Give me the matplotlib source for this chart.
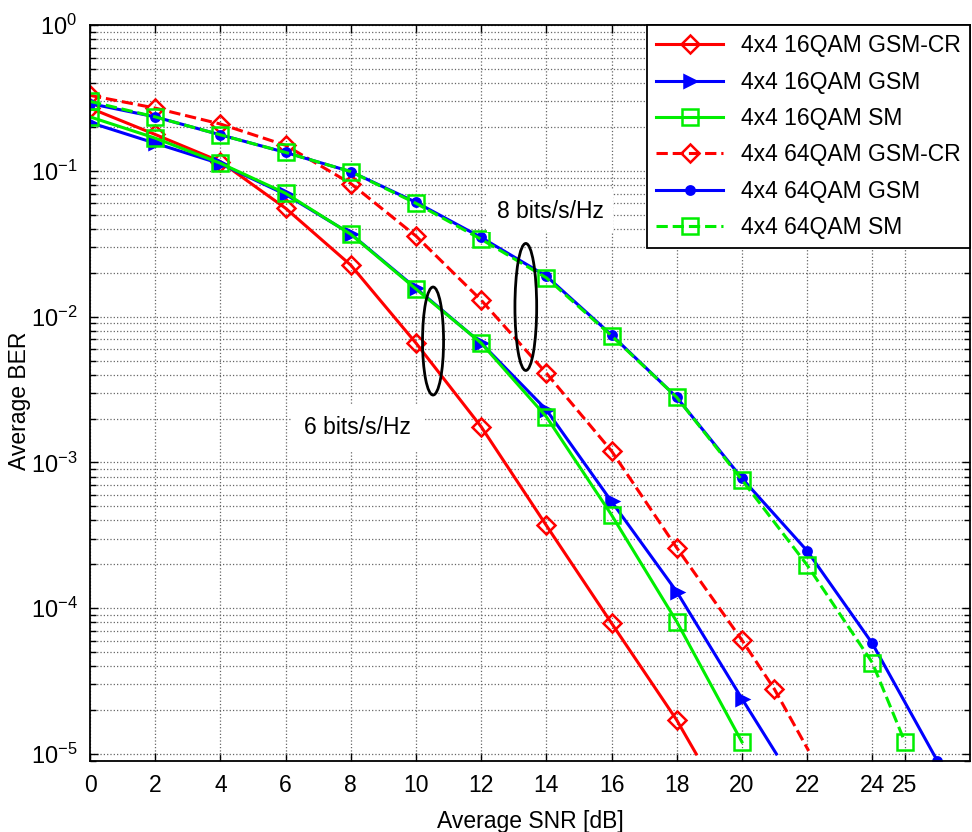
import numpy as np
import matplotlib
matplotlib.use('Agg')
import matplotlib.pyplot as plt
from matplotlib.patches import Ellipse
from matplotlib.ticker import FixedLocator, LogLocator, NullFormatter

plt.rcParams['font.family'] = ['Liberation Sans', 'DejaVu Sans']
plt.rcParams['mathtext.fontset'] = 'custom'
plt.rcParams['mathtext.rm'] = 'Liberation Sans'
plt.rcParams['mathtext.it'] = 'Liberation Sans:italic'
plt.rcParams['mathtext.bf'] = 'Liberation Sans:bold'

# === Data (SNR in dB, BER) ===
# last entry of some series is where the curve leaves the plot (no marker there)
snr_16_gsmcr = [0, 2, 4, 6, 8, 10, 12, 14, 16, 18, 18.6]
ber_16_gsmcr = [0.27, 0.178, 0.116, 0.0555, 0.0226, 0.0066, 0.00176, 3.7e-4, 7.9e-5, 1.71e-5, 1.0e-5]

snr_16_gsm = [0, 2, 4, 6, 8, 10, 12, 14, 16, 18, 20, 21.06]
ber_16_gsm = [0.215, 0.155, 0.112, 0.069, 0.037, 0.0157, 0.0066, 0.0023, 5.4e-4, 1.3e-4, 2.4e-5, 1.0e-5]

snr_16_sm = [0, 2, 4, 6, 8, 10, 12, 14, 16, 18, 20]
ber_16_sm = [0.235, 0.168, 0.113, 0.0703, 0.0368, 0.0155, 0.0066, 0.00206, 4.37e-4, 8.1e-5, 1.21e-5]

snr_64_gsmcr = [0, 2, 4, 6, 8, 10, 12, 14, 16, 18, 20, 21, 22.05]
ber_64_gsmcr = [0.33, 0.27, 0.21, 0.15, 0.082, 0.0358, 0.013, 0.0041, 0.0012, 2.6e-4, 6.05e-5, 2.78e-5, 1.05e-5]

snr_64_gsm = [0, 2, 4, 6, 8, 10, 12, 14, 16, 18, 20, 22, 24, 26]
ber_64_gsm = [0.29, 0.235, 0.177, 0.134, 0.099, 0.061, 0.035, 0.019, 0.0075, 0.0028, 7.8e-4, 2.48e-4, 5.74e-5, 8.95e-6]

snr_64_sm = [0, 2, 4, 6, 8, 10, 12, 14, 16, 18, 20, 22, 24, 25]
ber_64_sm = [0.30, 0.235, 0.177, 0.134, 0.099, 0.060, 0.034, 0.0185, 0.0074, 0.0028, 7.6e-4, 1.98e-4, 4.24e-5, 1.21e-5]

x_ticks = [0, 2, 4, 6, 8, 10, 12, 14, 16, 18, 20, 22, 24, 25]

FS = 16.5
LW = 2.2
MEW = 1.8


def marks(x, tail):
    """Marker indices, skipping the trailing clip point if there is one."""
    n = len(x) - 1 if tail else len(x)
    return list(range(n))


fig = plt.figure(figsize=(9.72, 8.32), dpi=100)
ax = fig.add_axes([0.0926, 0.0853, 0.9054, 0.8844])

ax.plot(snr_16_gsmcr, ber_16_gsmcr, color='red', lw=LW, marker='D', ms=9.5,
        mfc='none', mew=MEW, markevery=marks(snr_16_gsmcr, True), label='4x4 16QAM GSM-CR')
ax.plot(snr_16_gsm, ber_16_gsm, color='blue', lw=LW, marker='>', ms=9,
        mfc='blue', mew=MEW, markevery=marks(snr_16_gsm, True), label='4x4 16QAM GSM')
ax.plot(snr_16_sm, ber_16_sm, color='#00ee00', lw=LW, marker='s', ms=11,
        mfc='none', mew=MEW, label='4x4 16QAM SM')
ax.plot(snr_64_gsmcr, ber_64_gsmcr, color='red', lw=LW, ls='--', marker='D', ms=9.5,
        mfc='none', mew=MEW, markevery=marks(snr_64_gsmcr, True), label='4x4 64QAM GSM-CR')
ax.plot(snr_64_gsm, ber_64_gsm, color='blue', lw=LW, marker='o', ms=6,
        mfc='blue', mew=MEW, label='4x4 64QAM GSM')
ax.plot(snr_64_sm, ber_64_sm, color='#00ee00', lw=LW, ls='--', marker='s', ms=11,
        mfc='none', mew=MEW, label='4x4 64QAM SM')

ax.set_yscale('log')
ax.set_xlim(0, 27)
ax.set_ylim(8.95e-6, 1)
ax.xaxis.set_major_locator(FixedLocator(x_ticks))
ax.yaxis.set_major_locator(LogLocator(base=10, numticks=10))
ax.yaxis.set_minor_locator(LogLocator(base=10, subs=np.arange(2, 10), numticks=20))
ax.yaxis.set_minor_formatter(NullFormatter())

ax.grid(which='major', axis='both', color='0.4', ls=':', lw=0.9)
ax.grid(which='minor', axis='y', color='0.4', ls=':', lw=0.9)
ax.set_axisbelow(True)

ax.tick_params(which='both', direction='in', top=True, right=True, labelsize=FS, width=1.0)
ax.tick_params(which='major', length=6)
ax.tick_params(axis='x', which='major', pad=9)
ax.tick_params(axis='y', which='major', pad=9, labelsize=FS + 0.5)
ax.tick_params(which='minor', length=4)
for s in ax.spines.values():
    s.set_linewidth(1.3)

ax.set_xlabel('Average SNR [dB]', fontsize=FS, labelpad=10)
ax.set_ylabel('Average BER', fontsize=FS)
ax.yaxis.set_label_coords(-0.067, 0.49)

# annotations
ax.add_patch(Ellipse((0.3898, 0.5708), 0.0239, 0.1468, transform=ax.transAxes,
                     fill=False, ec='black', lw=2.0, zorder=4))
ax.add_patch(Ellipse((0.4952, 0.6171), 0.0247, 0.1726, transform=ax.transAxes,
                     fill=False, ec='black', lw=2.0, zorder=4))
ax.text(0.5227, 0.7475, '8 bits/s/Hz', transform=ax.transAxes, fontsize=FS,
        ha='center', va='center', zorder=3,
        bbox=dict(facecolor='white', edgecolor='none', pad=7))
ax.text(0.3034, 0.4526, '6 bits/s/Hz', transform=ax.transAxes, fontsize=FS,
        ha='center', va='center', zorder=3,
        bbox=dict(facecolor='white', edgecolor='none', pad=9))

leg = ax.legend(loc='upper right', bbox_to_anchor=(1.0, 1.0), borderaxespad=0.0,
                fontsize=FS, handlelength=2.9, labelspacing=0.58, fancybox=False,
                framealpha=1, edgecolor='black')
leg.get_frame().set_linewidth(1.3)

fig.savefig('out.png', dpi=100)
